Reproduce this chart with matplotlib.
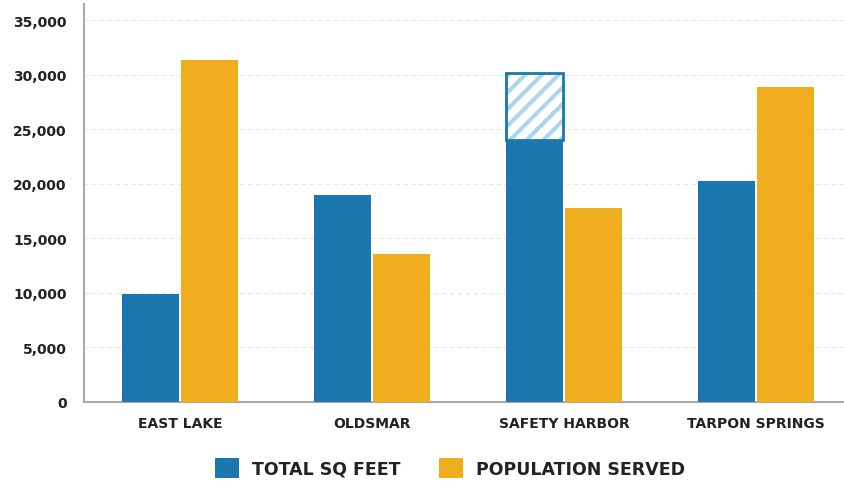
import matplotlib
matplotlib.use("Agg")
import matplotlib.pyplot as plt
from matplotlib.patches import Patch
import numpy as np

plt.rcParams['font.family'] = ['DejaVu Sans']
plt.rcParams['hatch.linewidth'] = 3.0

categories = ["EAST LAKE", "OLDSMAR", "SAFETY HARBOR", "TARPON SPRINGS"]
total_sq_feet = [9900, 19000, 24000, 20300]
planned_extra_sq_feet = [0, 0, 6200, 0]
population_served = [31400, 13600, 17800, 28900]
yticks = [0, 5000, 10000, 15000, 20000, 25000, 30000, 35000]

blue = "#1a78ae"
gold = "#f0ad1e"
hatch_c = "#a9d9e8"

fig = plt.figure(figsize=(8.44, 4.85), dpi=100)
ax = fig.add_axes([84/844, 1-403/485, 1-84/844, (403-5)/485])

x = np.arange(len(categories))
w = 0.295
gap = 0.005
ax.bar(x - w/2 - gap, total_sq_feet, w, color=blue, zorder=3)
ax.bar(x + w/2 + gap, population_served, w, color=gold, zorder=3)
ext = [i for i, v in enumerate(planned_extra_sq_feet) if v > 0]
ax.bar(x[ext] - w/2 - gap, [planned_extra_sq_feet[i] for i in ext], w,
       bottom=[total_sq_feet[i] for i in ext], facecolor="white",
       edgecolor=hatch_c, hatch="//", linewidth=0, zorder=3)
ax.bar(x[ext] - w/2 - gap, [planned_extra_sq_feet[i] for i in ext], w,
       bottom=[total_sq_feet[i] for i in ext], facecolor="none",
       edgecolor=blue, linewidth=2, zorder=4)

ax.set_xlim(-0.5, (844-180)/192)
ax.set_ylim(0, 36500)
ax.set_yticks(yticks)
ax.set_yticklabels([f"{v:,}" for v in yticks], fontsize=10, fontweight="bold", color="#222222")
ax.set_xticks(x)
ax.set_xticklabels(categories, fontsize=10, fontweight="bold", color="#222222")
ax.tick_params(axis="both", length=0)
ax.tick_params(axis="y", pad=12.5)
ax.tick_params(axis="x", pad=10)
ax.yaxis.grid(True, color="#e6e6e6", linestyle=(0, (4, 3)), linewidth=0.8, zorder=0)
for s in ["top", "right"]:
    ax.spines[s].set_visible(False)
for s in ["left", "bottom"]:
    ax.spines[s].set_color("#aaaaaa")
    ax.spines[s].set_linewidth(1.5)

handles = [Patch(facecolor=blue, label="TOTAL SQ FEET"),
           Patch(facecolor=gold, label="POPULATION SERVED")]
leg = fig.legend(handles=handles, loc="center", bbox_to_anchor=(450/844, 1-469/485),
                 ncol=2, frameon=False, handlelength=1.4, handleheight=1.4,
                 columnspacing=2.2, handletextpad=0.75,
                 prop={"size": 12.5, "weight": "bold"})
for t in leg.get_texts():
    t.set_color("#222222")

fig.savefig("out.png", dpi=100)
